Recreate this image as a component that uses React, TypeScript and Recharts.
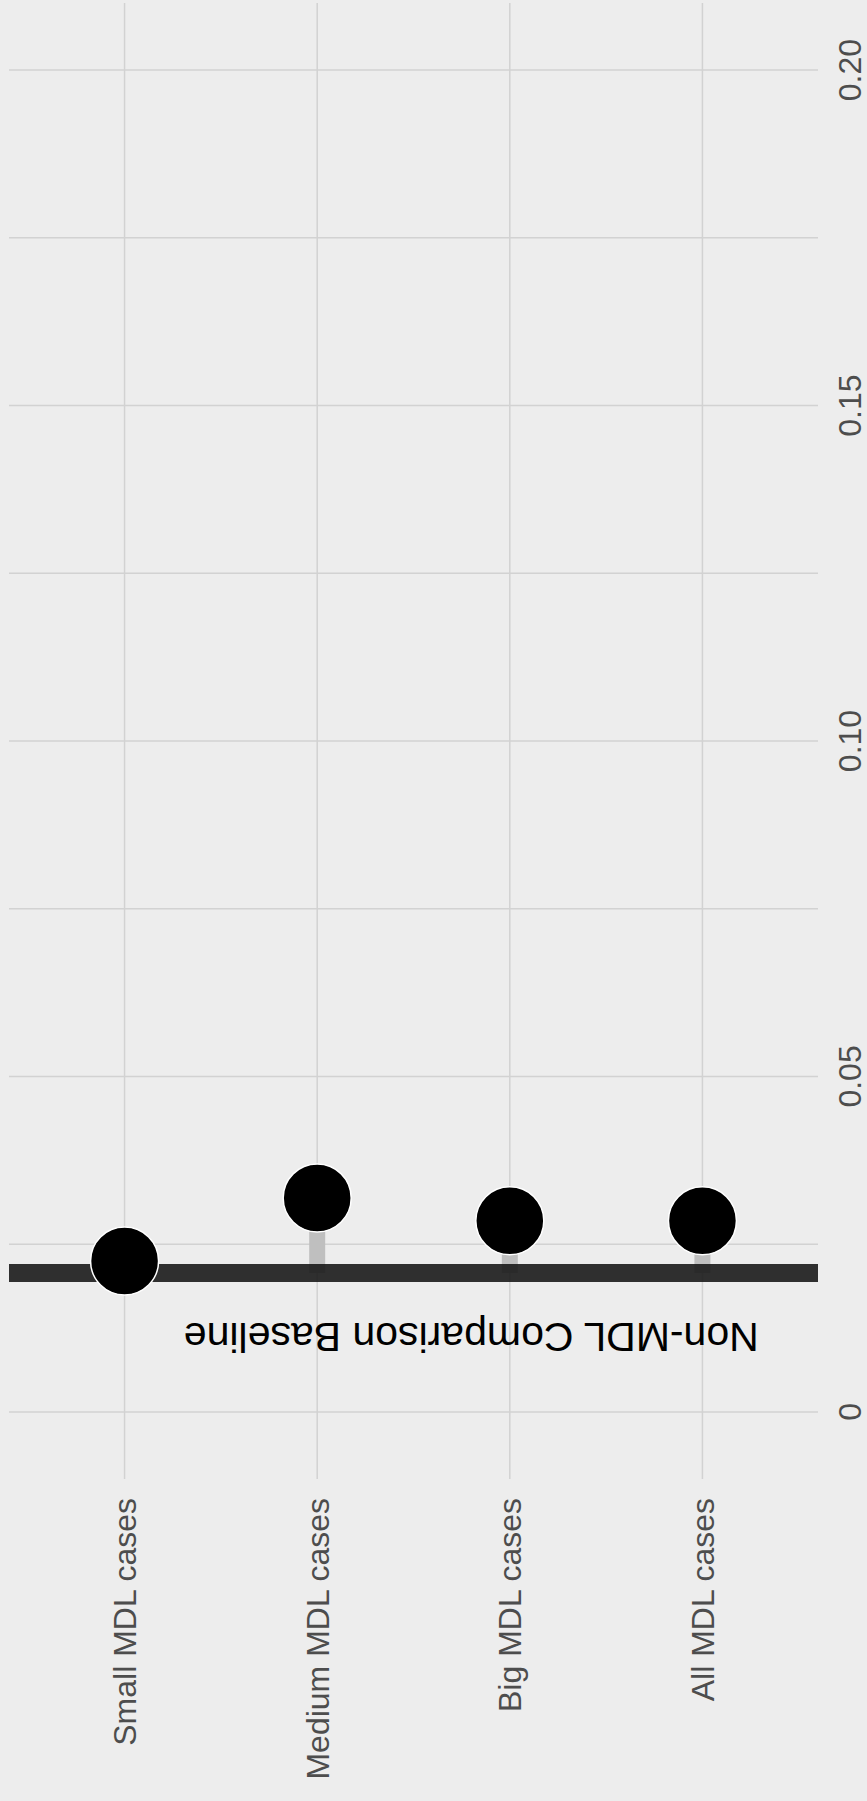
import { ComposedChart, XAxis, YAxis, CartesianGrid, Scatter, ReferenceLine, ReferenceDot } from "recharts";

const categories = ["Small MDL cases", "Medium MDL cases", "Big MDL cases", "All MDL cases"];
const positions = [1, 2, 3, 4];
const rates = [0.0225, 0.0319, 0.0285, 0.0285];
const baselineRate = 0.0207;
const yTicks = [0, 0.05, 0.1, 0.15, 0.2];
const yTickLabels = ["0", "0.05", "0.10", "0.15", "0.20"];
const gridValues = [0, 0.025, 0.05, 0.075, 0.1, 0.125, 0.15, 0.175, 0.2];
const baselineLabel = "Non-MDL Comparison Baseline";
const labelPos = 2.8;
const labelRate = 0.011;

const data = categories.map((name, i) => ({ name, pos: positions[i], rate: rates[i] }));

const FONT = "'Liberation Sans', Arial, Helvetica, sans-serif";

const CategoryTick = ({ x, y, payload }: any) => (
  <g transform={`translate(${x},${y}) rotate(-90)`}>
    <text x={0} y={0} dy="0.36em" textAnchor="end" fill="#4d4d4d" fontSize={32} fontFamily={FONT}>
      {categories[positions.indexOf(payload.value)]}
    </text>
  </g>
);

const RateTick = ({ x, y, payload }: any) => (
  <g transform={`translate(${x},${y}) rotate(-90)`}>
    <text x={0} y={0} textAnchor="middle" fill="#4d4d4d" fontSize={32} fontFamily={FONT}>
      {yTickLabels[yTicks.indexOf(payload.value)]}
    </text>
  </g>
);

const BaselineText = (props: any) => {
  const { viewBox } = props;
  const cx = viewBox.x + viewBox.width / 2;
  const cy = viewBox.y + viewBox.height / 2;
  return (
    <g transform={`translate(${cx},${cy}) rotate(180)`}>
      <text x={0} y={0} dy="0.36em" textAnchor="middle" fill="#000" fontSize={41} fontFamily={FONT}>
        {baselineLabel}
      </text>
    </g>
  );
};

const Point = (props: any) => (
  <circle cx={props.cx} cy={props.cy} r={34} fill="#000" stroke="#fff" strokeWidth={1.5} />
);

export default function App() {
  return (
    <div style={{ width: 867, height: 1801, background: "#ededed" }}>
      <style>{"body{margin:0;background:#ededed}"}</style>
      <ComposedChart width={867} height={1801} data={data} margin={{ top: 3, left: 9, right: 0, bottom: 0 }}>
        <CartesianGrid
          stroke="#d2d2d2"
          strokeWidth={1.5}
          horizontalValues={gridValues}
          verticalValues={positions}
        />
        <XAxis
          dataKey="pos"
          type="number"
          domain={[0.4, 4.6]}
          ticks={positions}
          height={322}
          axisLine={false}
          tickLine={false}
          tickSize={0}
          tickMargin={19}
          tick={<CategoryTick />}
          interval={0}
        />
        <YAxis
          orientation="right"
          type="number"
          domain={[-0.01, 0.21]}
          ticks={yTicks}
          width={49}
          axisLine={false}
          tickLine={false}
          tickSize={0}
          tickMargin={43}
          tick={<RateTick />}
          interval={0}
        />
        {data.map((d) => (
          <ReferenceLine
            key={d.name}
            segment={[{ x: d.pos, y: baselineRate }, { x: d.pos, y: d.rate }]}
            stroke="#bfbfbf"
            strokeWidth={16}
          />
        ))}
        <ReferenceLine y={baselineRate} stroke="#1a1a1a" strokeOpacity={0.9} strokeWidth={18} />
        <ReferenceDot x={labelPos} y={labelRate} r={1} fill="none" stroke="none" label={<BaselineText />} />
        <Scatter dataKey="rate" shape={<Point />} isAnimationActive={false} />
      </ComposedChart>
    </div>
  );
}
